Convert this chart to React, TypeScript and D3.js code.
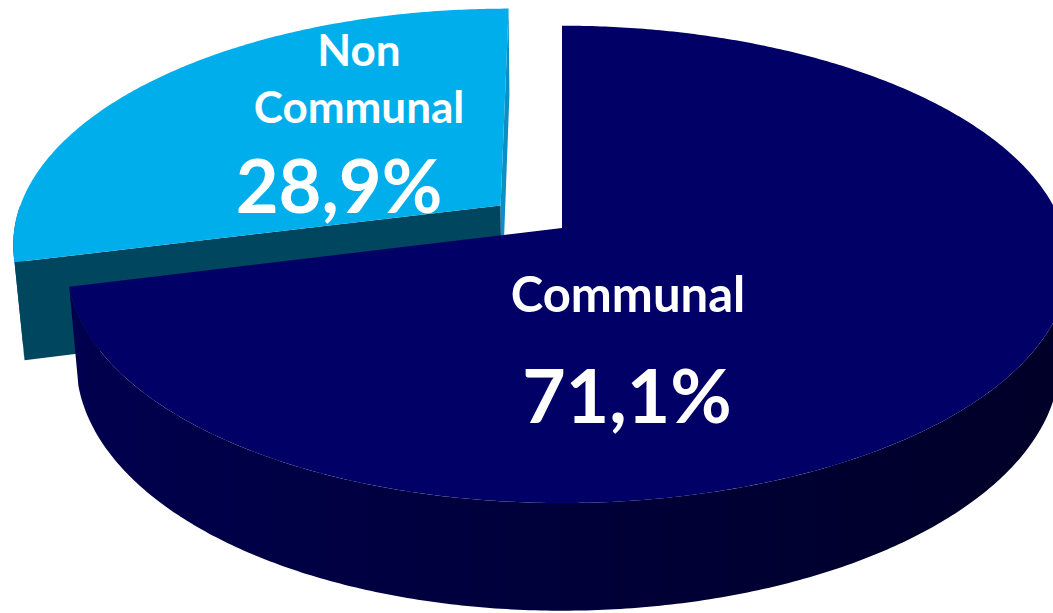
import React from "react";
import * as d3 from "d3";

const categories = ["Communal", "Non Communal"];
const values = [71.1, 28.9];
const valueLabels = ["71,1%", "28,9%"];

const W = 1053;
const H = 613;
// 3d view
const CX = 562;
const CY = 228;
const K = 495;
const SKEW = 6; // small extra width on the right, like the excel render
const TILT = Math.asin(0.471);
const DIST = 5.79;
const DEPTH = 0.225;
const explode = [0, 0.16];

const colors = [
  { top: "#000066", sideA: "#00004e", sideB: "#000028", face: "#00003a" },
  { top: "#00AEEB", sideA: "#00465E", sideB: "#00465E", face: "#00465E", face2: "#0C8FC2" },
];

// label layout (screen space)
const labelLayout = [
  [
    { lines: ["Communal"], x: 628, y: 312, size: 49 },
    { value: true, x: 627, y: 423, size: 75 },
  ],
  [
    { lines: ["Non", "Communal"], x: 359, y: 66, size: 44, gap: 57 },
    { value: true, x: 339, y: 213, size: 74 },
  ],
];

function project(X: number, Y: number, Z: number): [number, number] {
  const u = Y * Math.cos(TILT) + Z * Math.sin(TILT);
  const w = Z * Math.cos(TILT) - Y * Math.sin(TILT);
  const s = DIST / (DIST + w);
  return [CX + s * (K * X + SKEW * X * X), CY - K * s * u];
}

const line = d3.line<[number, number]>();

export default function App() {
  const pie = d3.pie<number>().sort(null).value((d) => d);
  const arcs = pie(values);
  const cam = [0, DIST * Math.sin(TILT), -DIST * Math.cos(TILT)];

  const slices = arcs.map((a, i) => {
    const mid = (a.startAngle + a.endAngle) / 2;
    const ox = explode[i] * Math.sin(mid);
    const oz = explode[i] * Math.cos(mid);
    const rim = (t: number, y: number) => project(ox + Math.sin(t), y, oz + Math.cos(t));
    const ctr = (y: number) => project(ox, y, oz);
    const c = colors[i];
    const parts: { d: string; fill: string }[] = [];

    // radial faces
    const faceAt = (t: number, sign: number, fill: string) => {
      const nx = sign * Math.cos(t);
      const nz = -sign * Math.sin(t);
      const dot = (cam[0] - ox) * nx + (cam[2] - oz) * nz;
      if (dot > 0.001) {
        parts.push({
          d: line([ctr(0), rim(t, 0), rim(t, -DEPTH), ctr(-DEPTH)]) + "Z",
          fill,
        });
      }
    };
    faceAt(a.startAngle, -1, c.face);
    faceAt(a.endAngle, 1, c.face2 || c.face);

    // outer side, visible on the near half
    const s0 = Math.max(a.startAngle, Math.PI / 2);
    const s1 = Math.min(a.endAngle, (3 * Math.PI) / 2);
    if (s1 > s0) {
      const n = Math.max(2, Math.ceil((s1 - s0) / 0.01));
      const topPts: [number, number][] = [];
      const botPts: [number, number][] = [];
      for (let j = 0; j <= n; j++) {
        const t = s0 + ((s1 - s0) * j) / n;
        topPts.push(rim(t, 0));
        botPts.push(rim(t, -DEPTH));
      }
      parts.push({
        d: line(topPts.concat(botPts.reverse())) + "Z",
        fill: `url(#side${i})`,
      });
    }

    // top face
    const n = Math.ceil((a.endAngle - a.startAngle) / 0.01);
    const pts: [number, number][] = [ctr(0)];
    for (let j = 0; j <= n; j++) {
      pts.push(rim(a.startAngle + ((a.endAngle - a.startAngle) * j) / n, 0));
    }
    parts.push({ d: line(pts) + "Z", fill: c.top });
    return parts;
  });

  // far slice first
  const order = [1, 0];

  return (
    <div style={{ position: "fixed", left: 0, top: 0 }}>
      <svg width={W} height={H} style={{ display: "block", background: "#fff" }}>
        <defs>
          {colors.map((c, i) => (
            <linearGradient
              key={i}
              id={"side" + i}
              gradientUnits="userSpaceOnUse"
              x1={project(-1, 0, 0)[0]}
              x2={project(1, 0, 0)[0]}
              y1={0}
              y2={0}
            >
              <stop offset="0" stopColor={c.sideA} />
              <stop offset="0.55" stopColor={d3.interpolateRgb(c.sideA, c.sideB)(0.6)} />
              <stop offset="1" stopColor={c.sideB} />
            </linearGradient>
          ))}
        </defs>
        {order.map((i) => (
          <g key={categories[i]}>
            {slices[i].map((p, j) => (
              <path key={j} d={p.d} fill={p.fill} />
            ))}
          </g>
        ))}
        {order.map((i) => (
          <g
            key={"lbl" + i}
            fill="#fff"
            fontFamily="Lato, 'Open Sans', sans-serif"
            fontWeight="bold"
            textAnchor="middle"
          >
            {labelLayout[i].map((l, j) =>
              l.value ? (
                <text key={j} x={l.x} y={l.y} fontSize={l.size}>
                  {valueLabels[i]}
                </text>
              ) : (
                (l.lines || []).map((s, m) => (
                  <text key={j + "-" + m} x={l.x} y={l.y + m * (l.gap || 0)} fontSize={l.size}>
                    {s}
                  </text>
                ))
              )
            )}
          </g>
        ))}
      </svg>
    </div>
  );
}
